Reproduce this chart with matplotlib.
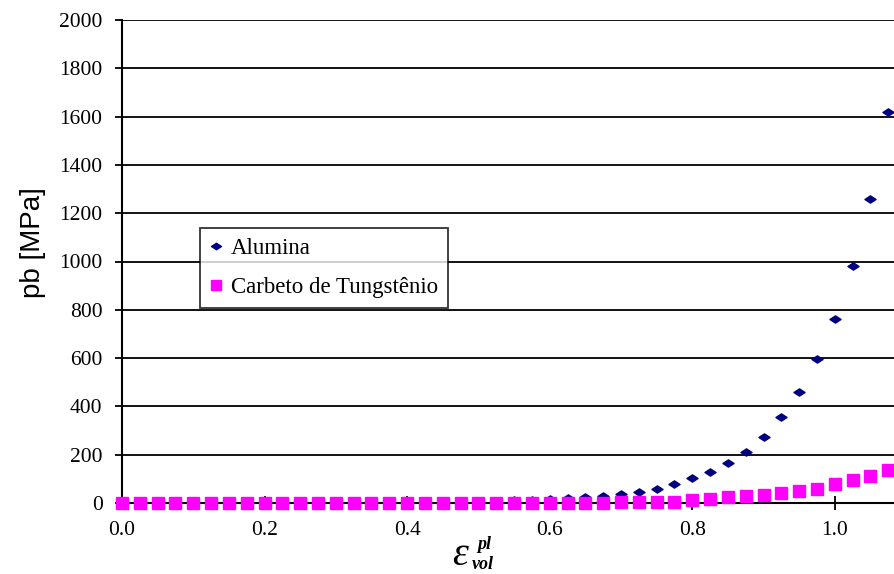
import matplotlib
matplotlib.use("Agg")
import matplotlib.pyplot as plt
from matplotlib.path import Path

strain = [round(0.025 * i, 3) for i in range(44)]
alumina = [0, 0, 0, 0, 0, 0, 0, 0, 0, 0,
           0, 0, 0, 0, 0, 0, 0, 0, 1, 2,
           7, 9, 11, 13, 17, 21, 26, 31, 38, 46,
           60, 78, 102, 130, 166, 212, 275, 355, 458, 595,
           762, 980, 1258, 1620]
carbeto = [0, 0, 0, 0, 0, 0, 0, 0, 0, 0,
           0, 0, 0, 0, 0, 0, 0, 0, 0, 0,
           0, 0, 0, 0, 0, 0, 0, 2, 3, 4,
           5, 6, 14, 18, 25, 27, 34, 43, 50, 60,
           77, 94, 112, 138]
yticks = [0, 200, 400, 600, 800, 1000, 1200, 1400, 1600, 1800, 2000]
xticks = [0.0, 0.2, 0.4, 0.6, 0.8, 1.0]

W, H = 894, 574
fig = plt.figure(figsize=(W / 100, H / 100), dpi=100)
ax = fig.add_axes([122 / W, 71 / H, (W - 122) / W, 483 / H])

diamond = Path([(-1, 0), (0, 0.65), (1, 0), (0, -0.65), (-1, 0)],
               [Path.MOVETO, Path.LINETO, Path.LINETO, Path.LINETO, Path.CLOSEPOLY])

ax.plot(strain, alumina, linestyle='none', marker=diamond, markersize=8,
        color='#000080', label='Alumina', clip_on=False, zorder=3)
ax.plot(strain, carbeto, linestyle='none', marker='s', markersize=8.5,
        color='#FF00FF', label='Carbeto de Tungstênio', clip_on=False, zorder=4)

ax.set_xlim(0, 1.083)
ax.set_ylim(0, 2000)
ax.set_yticks(yticks)
ax.set_xticks(xticks)
ax.set_xticklabels([f"{v:.1f}" for v in xticks])
for y in yticks[1:]:
    ax.axhline(y, color='black', lw=1.3, zorder=1)

for s in ['top', 'right']:
    ax.spines[s].set_visible(False)
for s in ['left', 'bottom']:
    ax.spines[s].set_linewidth(1.5)
    ax.spines[s].set_color('black')
ax.tick_params(axis='y', direction='out', length=5, width=1.3, pad=9)
ax.tick_params(axis='x', direction='inout', length=10, width=1.3, pad=8)
for lab in ax.get_xticklabels() + ax.get_yticklabels():
    lab.set_fontfamily('Liberation Serif')
    lab.set_fontsize(15.5)

fig.text(33 / W, 1 - 243 / H, 'pb [MPa]', rotation=90, ha='center', va='center',
         fontfamily='Liberation Sans', fontsize=20)

# x-axis label: epsilon with superscript "pl" and subscript "vol"
fig.text(452 / W, 1 - 565 / H, 'ε', ha='left', va='baseline',
         fontfamily='Liberation Serif', style='italic', fontsize=29)
fig.text(477 / W, 1 - 549 / H, 'pl', ha='left', va='baseline',
         fontfamily='Liberation Serif', style='italic', weight='bold', fontsize=13)
fig.text(472 / W, 1 - 569 / H, 'vol', ha='left', va='baseline',
         fontfamily='Liberation Serif', style='italic', weight='bold', fontsize=13)

leg = ax.legend(loc='upper left', bbox_to_anchor=((200 - 122) / 772, (503 - 228) / 483),
                prop={'family': 'Liberation Serif', 'size': 16.5},
                frameon=True, fancybox=False, edgecolor='black',
                handlelength=0.5, handletextpad=0.4, borderpad=0.45,
                labelspacing=0.75, markerscale=0.9, borderaxespad=0)
leg.get_frame().set_linewidth(1.3)

fig.savefig('out.png', dpi=100)
